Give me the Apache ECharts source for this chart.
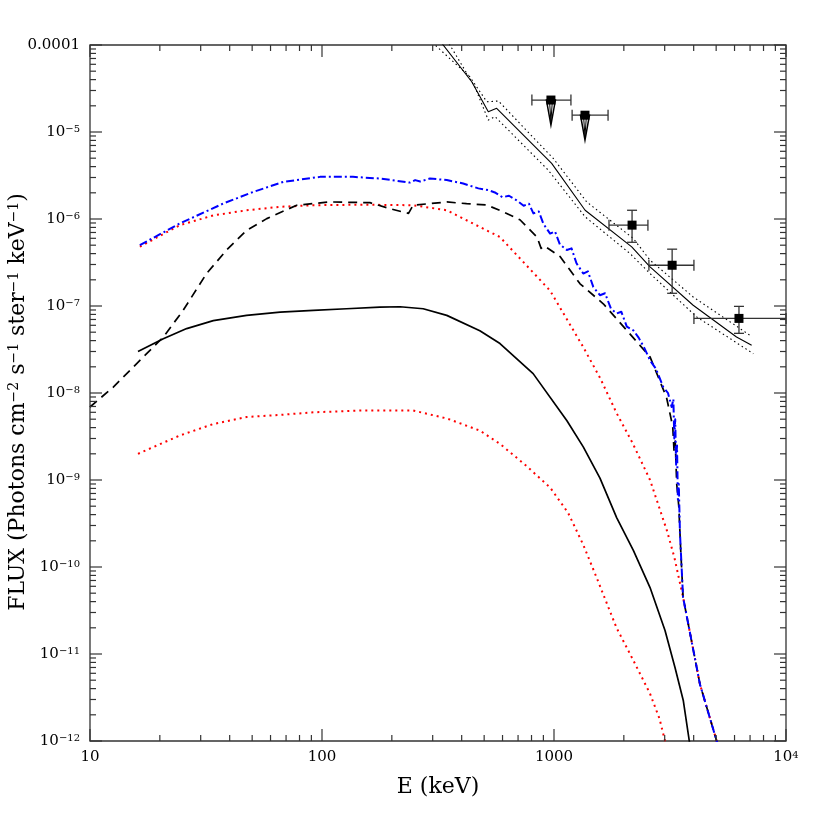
<!DOCTYPE html>
<html>
<head>
<meta charset="utf-8">
<script src="https://cdn.jsdelivr.net/npm/echarts@6/dist/echarts.min.js"></script>
<style>
html, body { margin: 0; padding: 0; background: #fff; }
#chart { width: 830px; height: 830px; }
</style>
</head>
<body>
<div id="chart"></div>
<script>
// axis ticks
const xMajor = [10, 100, 1000, 10000];
const yMajor = [1e-12, 1e-11, 1e-10, 1e-9, 1e-8, 1e-7, 1e-6, 1e-5, 1e-4];

// lower black solid curve
const lowSolidE = [16.1, 20.7, 26.1, 34, 47.3, 66, 91.8, 127.6, 177.6, 217, 273, 345, 479, 585, 813, 1137, 1337, 1578, 1862, 2198, 2594, 3010, 3323, 3610, 3830, 3900];
const lowSolidF = [3.0e-8, 4.2e-8, 5.5e-8, 6.8e-8, 7.8e-8, 8.5e-8, 8.9e-8, 9.3e-8, 9.7e-8, 9.8e-8, 9.3e-8, 7.8e-8, 5.2e-8, 3.7e-8, 1.67e-8, 4.8e-9, 2.4e-9, 1.05e-9, 3.7e-10, 1.55e-10, 5.8e-11, 1.86e-11, 7e-12, 2.9e-12, 1e-12, 7e-13];

// red dotted, upper
const redHiE = [16.4, 24.4, 34, 47.3, 66, 91.8, 150, 247, 345, 479, 585, 962, 1334, 1578, 1860, 2190, 2594, 3070, 3300, 3600, 4256, 5025, 5200];
const redHiF = [4.8e-7, 8.5e-7, 1.1e-6, 1.26e-6, 1.38e-6, 1.44e-6, 1.46e-6, 1.44e-6, 1.26e-6, 8.1e-7, 6.2e-7, 1.5e-7, 3.4e-8, 1.5e-8, 5.9e-9, 2.6e-9, 1.0e-9, 2.6e-10, 1.3e-10, 4.5e-11, 4.5e-12, 1.0e-12, 7e-13];

// red dotted, lower
const redLoE = [16.1, 24.4, 34, 47.3, 66, 91.8, 150, 247, 345, 479, 585, 750, 962, 1150, 1337, 1528, 1860, 2200, 2594, 2850, 3010, 3100];
const redLoF = [2.0e-9, 3.25e-9, 4.4e-9, 5.3e-9, 5.6e-9, 6.0e-9, 6.3e-9, 6.3e-9, 5.1e-9, 3.7e-9, 2.6e-9, 1.5e-9, 8.2e-10, 4.2e-10, 1.8e-10, 7.5e-11, 2.0e-11, 8.4e-12, 3.5e-12, 1.8e-12, 1.0e-12, 7e-13];

// blue dash-dot
const blueE = [16.4, 24.4, 37.6, 50.6, 68.1, 98, 136, 178, 210, 239, 252, 265, 292, 345, 406, 472, 520, 560, 600, 640, 690, 740, 780, 815, 860, 900, 962, 1010, 1060, 1136, 1190, 1250, 1337, 1400, 1478, 1578, 1660, 1760, 1862, 1950, 2060, 2198, 2320, 2450, 2594, 2750, 2958, 3100, 3214, 3270, 3300, 3330, 3360, 3390, 3420, 3450, 3490, 3600, 4256, 5025, 5200];
const blueF = [5.0e-7, 8.9e-7, 1.51e-6, 2.05e-6, 2.67e-6, 3.05e-6, 3.05e-6, 2.92e-6, 2.75e-6, 2.62e-6, 2.8e-6, 2.7e-6, 2.92e-6, 2.8e-6, 2.56e-6, 2.25e-6, 2.15e-6, 2.0e-6, 1.78e-6, 1.85e-6, 1.64e-6, 1.42e-6, 1.5e-6, 1.16e-6, 1.22e-6, 8.8e-7, 6.8e-7, 7.2e-7, 5.1e-7, 4.4e-7, 4.6e-7, 3.1e-7, 2.36e-7, 2.5e-7, 1.65e-7, 1.33e-7, 1.4e-7, 9.3e-8, 8.2e-8, 8.6e-8, 5.8e-8, 5.25e-8, 4.3e-8, 3.3e-8, 2.37e-8, 1.9e-8, 1.17e-8, 1.0e-8, 6.9e-9, 8.5e-9, 3e-9, 5e-9, 1.5e-9, 2.5e-9, 6e-10, 9e-10, 2.5e-10, 4.5e-11, 4.5e-12, 1e-12, 7e-13];

// black dashed
const dashE = [10, 12.6, 15.4, 20.7, 25.2, 31.8, 38.8, 47.3, 57.8, 77.8, 108, 161, 197, 236, 247, 345, 420, 513, 604, 713, 845, 880, 910, 1062, 1295, 1631, 2065, 2594, 3055, 3250, 3290, 3330, 3380, 3450, 3520, 3600, 4256, 5025, 5200];
const dashF = [6.9e-9, 1.17e-8, 2.0e-8, 4.4e-8, 8.9e-8, 2.36e-7, 4.4e-7, 7.4e-7, 1.01e-6, 1.44e-6, 1.57e-6, 1.54e-6, 1.31e-6, 1.16e-6, 1.44e-6, 1.57e-6, 1.5e-6, 1.45e-6, 1.21e-6, 9.8e-7, 6.2e-7, 4.6e-7, 4.9e-7, 3.7e-7, 1.8e-7, 1.06e-7, 5.2e-8, 2.6e-8, 8.9e-9, 4.1e-9, 2.2e-9, 2.8e-9, 9e-10, 5e-10, 1.5e-10, 4.5e-11, 4.5e-12, 1e-12, 7e-13];

// model line and its dotted band (upper right)
const modelE = [300, 442, 521, 566, 977, 1362, 2163, 2594, 3980, 6120, 7110];
const modelF = [1.43e-4, 3.78e-5, 1.71e-5, 1.87e-5, 4.36e-6, 1.26e-6, 4.78e-7, 2.81e-7, 1.02e-7, 4.4e-8, 3.53e-8];
const modelHiE = [280, 434, 513, 576, 993, 1384, 2198, 2594, 3980, 7000];
const modelHiF = [1.25e-4, 4.3e-5, 2.23e-5, 2.27e-5, 4.97e-6, 1.57e-6, 5.97e-7, 3.36e-7, 1.27e-7, 4.6e-8];
const modelLoE = [330, 456, 521, 557, 944, 1362, 2128, 2594, 4120, 7230];
const modelLoF = [1.4e-4, 3.3e-5, 1.37e-5, 1.5e-5, 3.65e-6, 1.06e-6, 4.0e-7, 2.36e-7, 7.5e-8, 2.83e-8];

// measured points (flux low/high, limit flag)
const ptE = [970, 1360, 2170, 3230, 6270];
const ptF = [2.33e-5, 1.56e-5, 8.5e-7, 2.94e-7, 7.2e-8];
const ptElo = [803, 1197, 1726, 2565, 4010];
const ptEhi = [1183, 1710, 2540, 4010, 10000];
const ptFlo = [1.2e-5, 8.1e-6, 5.4e-7, 1.4e-7, 4.85e-8];
const ptFhi = [2.33e-5, 1.56e-5, 1.26e-6, 4.5e-7, 9.9e-8];
const ptLimit = [1, 1, 0, 0, 0];

const FONT = 'DejaVu Serif';
const FRAME = '#333';

function pairs(xs, ys) {
    return xs.map((x, i) => [x, ys[i]]);
}

function minorOf(majors) {
    const out = [];
    for (let i = 0; i < majors.length - 1; i++) {
        for (let k = 2; k <= 9; k++) out.push(majors[i] * k);
    }
    return out;
}

function xLabel(v) {
    const p = Math.round(Math.log10(v));
    return p >= 4 ? '{b|10}{s|' + p + '}' : '{b|' + Math.round(v) + '}';
}
function yLabel(v) {
    const p = Math.round(Math.log10(v));
    return p === -4 ? '{b|0.0001}' : '{b|10}{s|\u2212' + (-p) + '}';
}

const labelRich = {
    b: { fontFamily: FONT, fontSize: 15, color: '#000' },
    s: { fontFamily: FONT, fontSize: 10, color: '#000', verticalAlign: 'top' }
};

// tick rows: [E, F, 0 = x tick / 1 = y tick, length]
const tickRows = [];
xMajor.forEach(v => tickRows.push([v, 1e-8, 0, 12]));
minorOf(xMajor).forEach(v => tickRows.push([v, 1e-8, 0, 6]));
yMajor.forEach(v => tickRows.push([100, v, 1, 12]));
minorOf(yMajor).forEach(v => tickRows.push([100, v, 1, 6]));

function renderTick(params, api) {
    const cs = params.coordSys;
    const len = api.value(3);
    const st = { stroke: FRAME, lineWidth: 1.2 };
    const p = api.coord([api.value(0), api.value(1)]);
    if (api.value(2) === 0) {
        const b = cs.y + cs.height;
        return { type: 'group', children: [
            { type: 'line', shape: { x1: p[0], y1: b, x2: p[0], y2: b - len }, style: st },
            { type: 'line', shape: { x1: p[0], y1: cs.y, x2: p[0], y2: cs.y + len }, style: st }
        ] };
    }
    const r = cs.x + cs.width;
    return { type: 'group', children: [
        { type: 'line', shape: { x1: cs.x, y1: p[1], x2: cs.x + len, y2: p[1] }, style: st },
        { type: 'line', shape: { x1: r, y1: p[1], x2: r - len, y2: p[1] }, style: st }
    ] };
}

function line(name, xs, ys, color, width, type) {
    return {
        name: name, type: 'line', xAxisIndex: 0, yAxisIndex: 0,
        data: pairs(xs, ys), showSymbol: false, symbol: 'none', silent: true,
        clip: true, animation: false,
        lineStyle: { color: color, width: width, type: type, cap: 'butt', join: 'round' }
    };
}

const points = ptE.map((e, i) => [e, ptF[i], ptElo[i], ptEhi[i], ptFlo[i], ptFhi[i], ptLimit[i]]);

function renderPoint(params, api) {
    const E = api.value(0), F = api.value(1);
    const c = api.coord([E, F]);
    const xl = api.coord([api.value(2), F])[0];
    const xh = api.coord([api.value(3), F])[0];
    const yl = api.coord([E, api.value(4)])[1];
    const yh = api.coord([E, api.value(5)])[1];
    const bar = { stroke: '#333', lineWidth: 1.3 };
    const kids = [
        { type: 'line', shape: { x1: xl, y1: c[1], x2: xh, y2: c[1] }, style: bar },
        { type: 'line', shape: { x1: xl, y1: c[1] - 5.5, x2: xl, y2: c[1] + 5.5 }, style: bar },
        { type: 'line', shape: { x1: xh, y1: c[1] - 5.5, x2: xh, y2: c[1] + 5.5 }, style: bar }
    ];
    if (api.value(6) === 1) {
        kids.push({ type: 'polygon', shape: { points: [[c[0] - 4.5, c[1]], [c[0] + 4.5, c[1]], [c[0], yl]] },
            style: { fill: '#fff', stroke: '#000', lineWidth: 1.5 } });
        kids.push({ type: 'polygon', shape: { points: [[c[0] - 1.5, c[1]], [c[0] + 1.5, c[1]], [c[0], yl - 4]] },
            style: { fill: 'none', stroke: '#000', lineWidth: 1 } });
    } else {
        kids.push({ type: 'line', shape: { x1: c[0], y1: yh, x2: c[0], y2: yl }, style: bar });
        kids.push({ type: 'line', shape: { x1: c[0] - 5, y1: yh, x2: c[0] + 5, y2: yh }, style: bar });
        kids.push({ type: 'line', shape: { x1: c[0] - 5, y1: yl, x2: c[0] + 5, y2: yl }, style: bar });
    }
    kids.push({ type: 'rect', shape: { x: c[0] - 4.5, y: c[1] - 4.5, width: 9, height: 9 }, style: { fill: '#000' } });
    return { type: 'group', children: kids };
}

const chart = echarts.init(document.getElementById('chart'), null, { renderer: 'canvas' });
chart.setOption({
    animation: false,
    backgroundColor: '#fff',
    textStyle: { fontFamily: FONT },
    grid: {
        left: 90, right: 44, top: 45, bottom: 89, containLabel: false, outerBoundsMode: 'none',
        show: true, borderColor: FRAME, borderWidth: 1.3, backgroundColor: 'transparent'
    },
    xAxis: {
        type: 'log', logBase: 10, min: 10, max: 10000,
        axisLine: { show: false },
        axisTick: { show: false },
        splitLine: { show: false },
        axisLabel: { show: true, customValues: xMajor, formatter: xLabel, margin: 9, rich: labelRich },
        name: 'E (keV)', nameLocation: 'middle', nameGap: 35, nameMoveOverlap: false,
        nameTextStyle: { color: '#000', fontFamily: FONT, fontSize: 22 }
    },
    yAxis: {
        type: 'log', logBase: 10, min: 1e-12, max: 1e-4,
        axisLine: { show: false },
        axisTick: { show: false },
        splitLine: { show: false },
        axisLabel: { show: true, customValues: yMajor, formatter: yLabel, margin: 10, rich: labelRich },
        name: 'FLUX (Photons cm{s|\u22122} s{s|\u22121} ster{s|\u22121} keV{s|\u22121})',
        nameLocation: 'middle', nameGap: 61, nameRotate: 90, nameMoveOverlap: false,
        nameTextStyle: {
            color: '#000', fontFamily: FONT, fontSize: 22, padding: [0, 18, 0, 0],
            rich: { s: { fontFamily: FONT, fontSize: 14, color: '#000', verticalAlign: 'top' } }
        }
    },
    series: [
        line('lower solid', lowSolidE, lowSolidF, '#000', 1.7, 'solid'),
        line('red upper', redHiE, redHiF, '#ff0000', 2, [2, 4]),
        line('red lower', redLoE, redLoF, '#ff0000', 2, [2, 4]),
        line('dashed', dashE, dashF, '#000', 1.7, [9, 6]),
        line('blue', blueE, blueF, '#0000ff', 2, [8, 3, 2, 3]),
        line('model', modelE, modelF, '#000', 1.1, 'solid'),
        line('model hi', modelHiE, modelHiF, '#000', 1.1, [1.5, 3]),
        line('model lo', modelLoE, modelLoF, '#000', 1.1, [1.5, 3]),
        {
            name: 'ticks', type: 'custom', xAxisIndex: 0, yAxisIndex: 0,
            data: tickRows, renderItem: renderTick, silent: true, clip: false, z: 4,
            encode: { x: 0, y: 1 }
        },
        {
            name: 'points', type: 'custom', xAxisIndex: 0, yAxisIndex: 0,
            data: points, renderItem: renderPoint, silent: true, z: 5,
            encode: { x: 0, y: 1 }
        }
    ]
});
</script>
</body>
</html>
